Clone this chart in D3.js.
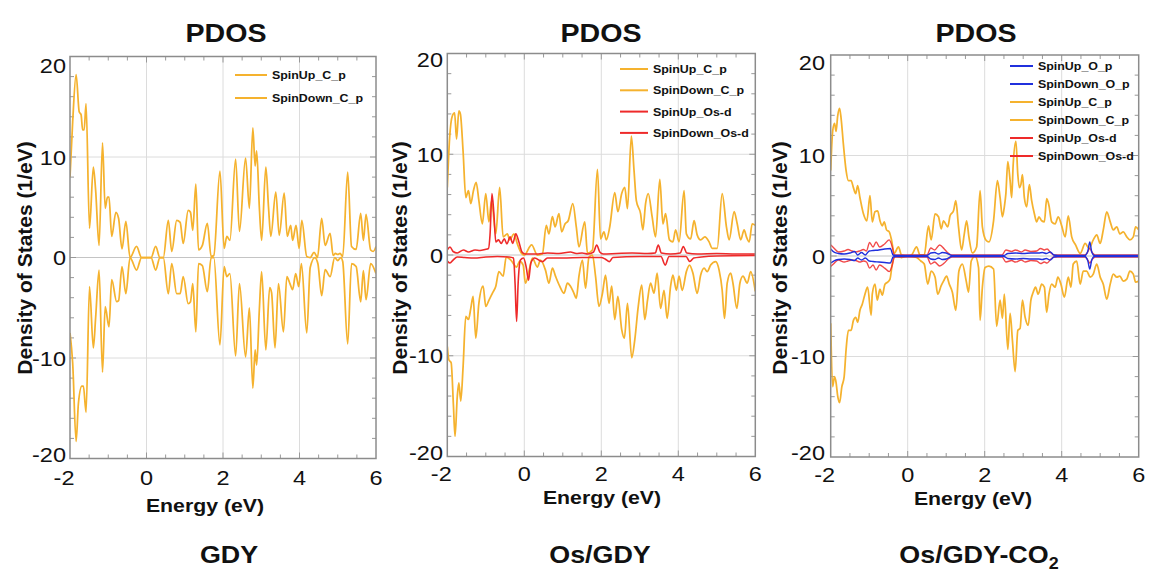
<!DOCTYPE html>
<html><head><meta charset="utf-8">
<script src="https://cdn.jsdelivr.net/npm/d3@7"></script>
<style>body{margin:0;background:#fff}svg{display:block;font-family:"Liberation Sans",Arial,sans-serif}</style>
</head><body><svg id="c" width="1153" height="572"></svg>
<script>
// ---------- tick labels ----------
const energyTicks = [-2, 0, 2, 4, 6];
const dosTicks = [-20, -10, 0, 10, 20];

// ---------- GDY ----------
const gdyUpC = [[-2.00,8.0],[-1.93,13.5],[-1.84,18.2],[-1.76,14.5],[-1.71,14.2],[-1.67,12.7],[-1.63,12.7],[-1.58,15.3],[-1.49,2.9],[-1.39,9.0],[-1.33,6.7],[-1.24,1.2],[-1.15,11.4],[-1.08,4.9],[-1.02,6.0],[-0.98,6.0],[-0.91,2.1],[-0.80,4.5],[-0.73,3.9],[-0.64,0.85],[-0.54,3.6],[-0.43,0.0],[-0.26,1.1],[-0.13,0.0],[0.00,0.0],[0.12,0.0],[0.24,1.1],[0.35,0.0],[0.44,0.0],[0.57,3.7],[0.66,0.6],[0.79,3.7],[0.88,3.5],[0.96,1.4],[1.09,4.7],[1.15,4.5],[1.21,2.7],[1.29,7.3],[1.36,0.75],[1.46,1.2],[1.59,3.4],[1.69,0.1],[1.76,0.2],[1.92,8.6],[2.03,0.9],[2.10,2.1],[2.18,1.7],[2.33,9.8],[2.43,2.6],[2.59,9.9],[2.69,4.9],[2.78,12.9],[2.84,9.1],[2.88,10.6],[2.95,5.0],[3.01,1.7],[3.12,9.0],[3.19,5.0],[3.25,2.1],[3.38,6.5],[3.47,2.2],[3.60,6.4],[3.68,2.1],[3.77,3.2],[3.82,1.7],[3.91,3.2],[3.99,0.9],[4.06,3.7],[4.19,0.1],[4.28,0.0],[4.38,0.5],[4.47,0.0],[4.58,3.9],[4.67,1.2],[4.80,2.4],[4.88,0.2],[4.94,0.4],[5.00,0.3],[5.06,0.4],[5.13,0.1],[5.26,8.5],[5.36,1.1],[5.48,0.8],[5.60,4.4],[5.67,1.7],[5.74,4.3],[5.86,0.75],[5.93,0.6],[6.00,1.1]];
const gdyDownC = [[-2.00,-7.5],[-1.93,-10.5],[-1.84,-18.3],[-1.78,-14.5],[-1.69,-12.8],[-1.65,-12.8],[-1.58,-15.4],[-1.49,-2.9],[-1.39,-9.0],[-1.33,-6.0],[-1.24,-1.25],[-1.15,-11.4],[-1.08,-4.9],[-0.98,-6.9],[-0.91,-2.2],[-0.78,-4.4],[-0.73,-4.3],[-0.64,-0.9],[-0.54,-3.6],[-0.43,0.0],[-0.26,-1.25],[-0.13,0.0],[0.00,0.0],[0.12,0.0],[0.24,-1.25],[0.35,0.0],[0.44,0.0],[0.57,-3.6],[0.66,-0.6],[0.79,-3.6],[0.88,-3.6],[0.96,-1.9],[1.09,-4.6],[1.15,-4.4],[1.21,-2.6],[1.29,-7.4],[1.36,-0.6],[1.46,-0.8],[1.59,-3.4],[1.69,0.0],[1.76,0.0],[1.92,-8.7],[2.03,-0.9],[2.10,-1.9],[2.18,-1.6],[2.33,-9.8],[2.43,-2.6],[2.59,-9.9],[2.69,-5.0],[2.78,-13.0],[2.84,-9.2],[2.88,-10.7],[2.95,-5.2],[3.01,-1.4],[3.12,-9.2],[3.22,-3.0],[3.27,-3.5],[3.36,-9.0],[3.45,-2.6],[3.58,-7.4],[3.67,-1.9],[3.75,-2.6],[3.82,-3.2],[3.90,-1.6],[3.98,-2.9],[4.05,-0.6],[4.19,-7.5],[4.28,-1.0],[4.40,0.0],[4.48,-0.6],[4.58,-3.8],[4.67,-1.2],[4.80,-1.9],[4.92,0.0],[5.00,-0.3],[5.08,0.0],[5.13,-0.4],[5.26,-8.6],[5.36,-0.6],[5.48,-0.9],[5.60,-4.4],[5.67,-1.3],[5.74,-4.2],[5.86,-0.6],[6.00,-1.6]];

// ---------- Os/GDY ----------
const osUpC = [[-2.00,6.7],[-1.94,11.6],[-1.87,13.8],[-1.81,14.1],[-1.76,11.5],[-1.70,14.3],[-1.66,14.0],[-1.59,10.3],[-1.52,5.7],[-1.45,6.4],[-1.39,5.1],[-1.32,6.4],[-1.25,7.2],[-1.18,5.4],[-1.09,3.1],[-1.00,6.1],[-0.92,3.3],[-0.85,5.4],[-0.74,2.1],[-0.64,6.7],[-0.55,1.8],[-0.44,2.1],[-0.38,1.5],[-0.27,2.1],[-0.18,1.1],[-0.07,0.16],[0.00,0.0],[0.19,1.0],[0.34,0.0],[0.47,0.1],[0.57,2.95],[0.64,2.1],[0.73,3.8],[0.80,2.8],[0.90,4.1],[0.97,2.3],[1.06,3.1],[1.14,3.4],[1.26,5.1],[1.35,2.8],[1.42,0.8],[1.57,3.3],[1.64,0.2],[1.77,0.5],[1.90,8.5],[1.98,1.6],[2.07,2.3],[2.13,1.5],[2.22,2.8],[2.35,6.2],[2.43,4.3],[2.53,6.1],[2.61,6.7],[2.68,4.6],[2.78,11.8],[2.85,8.4],[2.91,5.4],[3.02,4.1],[3.08,2.5],[3.15,5.1],[3.22,6.1],[3.32,3.8],[3.41,1.8],[3.52,7.5],[3.60,3.1],[3.67,4.1],[3.77,1.5],[3.86,1.3],[3.93,2.5],[4.02,1.3],[4.15,6.4],[4.21,2.1],[4.32,1.6],[4.41,3.4],[4.49,2.0],[4.58,1.5],[4.69,1.8],[4.80,1.3],[4.88,0.66],[5.01,0.66],[5.14,6.1],[5.25,2.8],[5.32,1.5],[5.45,4.3],[5.53,3.1],[5.62,1.5],[5.71,2.5],[5.77,1.8],[5.84,1.3],[5.92,3.1],[6.00,2.95]];
const osDownC = [[-2.00,-9.1],[-1.96,-10.4],[-1.90,-10.7],[-1.84,-15.0],[-1.80,-18.0],[-1.74,-14.0],[-1.70,-12.7],[-1.65,-14.5],[-1.59,-11.1],[-1.52,-6.1],[-1.45,-6.4],[-1.39,-5.3],[-1.33,-4.1],[-1.26,-8.25],[-1.18,-4.8],[-1.07,-3.1],[-1.00,-5.1],[-0.92,-4.5],[-0.83,-3.8],[-0.74,-3.1],[-0.66,-1.65],[-0.55,-2.1],[-0.47,-0.2],[-0.35,-0.5],[-0.20,-1.2],[-0.12,-0.6],[-0.03,-1.0],[0.03,-2.8],[0.14,-1.3],[0.21,-0.3],[0.34,-1.2],[0.42,-0.5],[0.55,-1.5],[0.64,-2.8],[0.73,-1.3],[0.81,-2.1],[0.92,-3.1],[1.03,-3.8],[1.12,-2.8],[1.20,-3.1],[1.29,-3.8],[1.35,-4.3],[1.42,-2.1],[1.51,-0.5],[1.59,-3.3],[1.68,-0.2],[1.77,0.0],[1.85,-2.1],[1.94,-5.1],[2.03,-3.8],[2.11,-2.0],[2.20,-4.8],[2.27,-3.1],[2.35,-6.4],[2.43,-4.1],[2.53,-7.4],[2.60,-8.25],[2.68,-4.8],[2.79,-10.2],[2.87,-8.4],[2.96,-5.1],[3.05,-3.0],[3.13,-6.4],[3.20,-4.5],[3.28,-2.8],[3.37,-3.8],[3.45,-1.8],[3.54,-5.3],[3.63,-3.5],[3.71,-6.3],[3.80,-3.1],[3.86,-2.0],[3.95,-3.5],[4.02,-2.1],[4.10,-3.5],[4.21,-1.65],[4.29,-1.0],[4.38,-1.8],[4.49,-3.8],[4.58,-2.0],[4.67,-1.3],[4.75,-1.65],[4.84,-1.0],[4.97,-0.66],[5.06,-1.5],[5.14,-3.5],[5.20,-6.3],[5.27,-2.8],[5.36,-1.8],[5.42,-2.8],[5.52,-5.3],[5.60,-2.8],[5.68,-2.1],[5.79,-2.8],[5.88,-1.65],[6.00,-3.6]];
const osUpD = [[-2.00,0.5],[-1.93,0.8],[-1.85,0.35],[-1.74,0.2],[-1.58,0.5],[-1.45,0.3],[-1.28,0.5],[-1.15,0.45],[-1.02,0.55],[-0.93,0.65],[-0.89,2.0],[-0.84,6.1],[-0.79,4.1],[-0.74,1.3],[-0.67,1.5],[-0.60,1.15],[-0.52,1.6],[-0.45,1.1],[-0.37,1.8],[-0.30,1.15],[-0.22,2.1],[-0.14,1.3],[-0.06,0.3],[0.02,0.1],[0.30,0.1],[0.60,0.2],[0.90,0.15],[1.20,0.3],[1.35,0.15],[1.50,0.2],[1.65,0.1],[1.80,0.3],[1.88,1.0],[1.96,0.3],[2.05,0.1],[2.40,0.15],[2.80,0.2],[3.20,0.15],[3.40,0.2],[3.48,1.0],[3.56,0.2],[3.80,0.1],[4.05,0.2],[4.13,0.85],[4.22,0.2],[4.50,0.1],[5.00,0.15],[5.50,0.1],[6.00,0.1]];
const osDownD = [[-2.00,-0.6],[-1.93,-0.8],[-1.85,-0.5],[-1.74,-0.2],[-1.55,-0.25],[-1.30,-0.3],[-1.00,-0.2],[-0.70,-0.15],[-0.40,-0.2],[-0.28,-0.3],[-0.24,-2.8],[-0.20,-6.6],[-0.16,-2.8],[-0.10,-0.5],[-0.02,-0.3],[0.05,-1.2],[0.11,-2.5],[0.17,-0.8],[0.27,-0.3],[0.47,-0.66],[0.60,-0.3],[1.00,-0.3],[1.50,-0.25],[2.00,-0.25],[2.10,-0.4],[2.21,-0.66],[2.30,-0.25],[3.00,-0.15],[3.55,-0.15],[3.66,-1.0],[3.76,-0.15],[4.20,-0.15],[4.30,-0.65],[4.40,-0.3],[4.60,-0.2],[5.00,-0.1],[6.00,-0.05]];

// ---------- Os/GDY-CO2 ----------
const coUpC = [[-2.00,8.5],[-1.95,12.4],[-1.90,13.2],[-1.86,12.4],[-1.82,13.9],[-1.77,14.7],[-1.73,13.7],[-1.67,11.1],[-1.60,8.5],[-1.54,7.5],[-1.47,7.5],[-1.41,6.8],[-1.35,6.2],[-1.30,7.0],[-1.24,5.8],[-1.15,4.2],[-1.06,3.5],[-0.98,6.0],[-0.92,3.4],[-0.85,4.4],[-0.78,4.5],[-0.72,3.5],[-0.66,3.0],[-0.61,3.4],[-0.55,2.6],[-0.48,2.4],[-0.42,1.6],[-0.35,0.26],[-0.24,0.9],[-0.16,0.1],[0.00,0.0],[0.10,0.1],[0.23,0.9],[0.32,0.1],[0.43,0.1],[0.54,3.0],[0.61,1.6],[0.71,4.2],[0.80,3.9],[0.87,2.7],[0.93,3.5],[1.04,2.9],[1.10,4.0],[1.19,4.5],[1.25,5.5],[1.32,2.9],[1.40,0.6],[1.47,2.2],[1.53,3.5],[1.59,1.9],[1.68,0.3],[1.79,0.9],[1.88,6.5],[1.94,2.9],[2.03,1.6],[2.11,1.4],[2.23,3.5],[2.33,7.5],[2.40,5.8],[2.46,3.9],[2.51,4.9],[2.55,6.2],[2.60,9.4],[2.66,7.5],[2.70,5.8],[2.74,9.1],[2.81,11.4],[2.86,8.1],[2.90,6.8],[2.94,7.1],[2.98,8.1],[3.03,5.8],[3.09,4.9],[3.16,7.1],[3.22,5.5],[3.29,4.2],[3.35,3.4],[3.41,3.9],[3.48,3.5],[3.55,3.4],[3.61,5.7],[3.67,5.0],[3.74,3.4],[3.83,3.2],[3.91,3.9],[4.00,3.0],[4.09,1.9],[4.17,4.0],[4.26,1.9],[4.36,1.1],[4.48,0.26],[4.61,1.25],[4.71,0.75],[4.82,1.6],[4.91,2.1],[5.00,1.25],[5.08,2.6],[5.17,4.4],[5.26,3.4],[5.34,2.6],[5.43,2.9],[5.51,2.2],[5.60,2.4],[5.69,1.9],[5.77,1.6],[5.86,1.9],[5.92,2.9],[6.00,2.6]];
const coDownC = [[-2.00,-6.7],[-1.95,-13.0],[-1.90,-12.0],[-1.86,-12.6],[-1.82,-13.9],[-1.77,-14.6],[-1.71,-13.0],[-1.65,-12.0],[-1.60,-9.3],[-1.54,-7.4],[-1.47,-7.4],[-1.41,-6.4],[-1.35,-6.1],[-1.30,-6.6],[-1.24,-5.4],[-1.18,-4.8],[-1.11,-3.8],[-1.04,-3.1],[-0.95,-5.9],[-0.92,-3.8],[-0.85,-2.8],[-0.79,-4.4],[-0.72,-3.3],[-0.66,-3.9],[-0.59,-2.8],[-0.52,-2.6],[-0.46,-2.3],[-0.40,-0.8],[-0.32,0.0],[-0.16,-0.15],[0.00,0.0],[0.23,-0.15],[0.34,-0.5],[0.43,-0.8],[0.52,-2.8],[0.61,-1.5],[0.71,-2.1],[0.78,-3.8],[0.87,-2.95],[0.93,-2.5],[1.01,-2.0],[1.08,-2.8],[1.16,-3.6],[1.25,-5.4],[1.33,-1.5],[1.42,-0.8],[1.52,-2.5],[1.58,-3.6],[1.65,-0.5],[1.75,0.0],[1.84,-1.15],[1.88,-6.4],[1.94,-3.1],[2.01,-1.15],[2.11,-1.0],[2.23,-1.3],[2.31,-7.0],[2.40,-4.4],[2.46,-6.2],[2.51,-3.8],[2.60,-9.3],[2.66,-5.7],[2.72,-8.4],[2.79,-11.5],[2.86,-7.4],[2.92,-7.2],[2.98,-4.4],[3.05,-6.1],[3.13,-6.9],[3.20,-4.4],[3.26,-3.6],[3.32,-3.1],[3.39,-3.8],[3.48,-2.8],[3.55,-3.1],[3.61,-5.6],[3.67,-3.8],[3.74,-2.8],[3.83,-3.1],[3.90,-2.1],[3.98,-2.8],[4.07,-4.1],[4.17,-2.1],[4.24,-3.1],[4.30,-0.8],[4.39,-0.5],[4.48,-2.8],[4.56,-1.5],[4.65,-1.5],[4.74,-2.1],[4.82,-1.8],[4.91,-0.8],[5.00,-2.1],[5.08,-2.8],[5.17,-4.3],[5.26,-2.8],[5.34,-1.8],[5.43,-2.1],[5.51,-2.0],[5.60,-2.5],[5.69,-2.3],[5.77,-1.5],[5.86,-1.8],[5.92,-2.6],[6.00,-2.5]];
const coUpO = [[-2.00,0.7],[-1.90,0.35],[-1.80,0.25],[-1.65,0.2],[-1.50,0.3],[-1.38,0.45],[-1.30,0.1],[-1.20,0.35],[-1.10,0.1],[-1.00,0.5],[-0.90,0.55],[-0.75,0.6],[-0.60,0.7],[-0.45,0.75],[-0.38,0.1],[-0.30,0.05],[0.50,0.05],[0.60,0.3],[0.70,0.35],[0.80,0.2],[0.90,0.35],[1.00,0.3],[1.15,0.05],[2.50,0.05],[2.60,0.25],[2.80,0.3],[3.00,0.25],[3.20,0.3],[3.40,0.3],[3.50,0.35],[3.60,0.25],[3.70,0.4],[3.80,0.1],[3.90,0.05],[4.60,0.05],[4.68,0.5],[4.73,1.4],[4.78,0.4],[4.85,0.05],[6.00,0.05]];
const coDownO = [[-2.00,-0.7],[-1.90,-0.45],[-1.80,-0.35],[-1.65,-0.3],[-1.50,-0.35],[-1.38,-0.45],[-1.30,-0.2],[-1.20,-0.4],[-1.10,-0.2],[-1.00,-0.5],[-0.90,-0.55],[-0.75,-0.6],[-0.60,-0.65],[-0.45,-0.7],[-0.38,-0.1],[-0.30,-0.05],[0.50,-0.05],[0.60,-0.3],[0.70,-0.35],[0.80,-0.2],[0.90,-0.35],[1.00,-0.3],[1.15,-0.05],[2.50,-0.05],[2.60,-0.25],[2.80,-0.3],[3.00,-0.25],[3.20,-0.3],[3.40,-0.3],[3.50,-0.35],[3.60,-0.25],[3.70,-0.4],[3.80,-0.1],[3.90,-0.05],[4.60,-0.05],[4.68,-0.5],[4.73,-1.3],[4.78,-0.4],[4.85,-0.05],[6.00,-0.05]];
const coUpD = [[-2.00,1.1],[-1.93,0.85],[-1.80,0.4],[-1.65,0.5],[-1.55,0.65],[-1.45,0.5],[-1.35,0.4],[-1.25,0.5],[-1.15,0.65],[-1.07,0.5],[-0.99,1.35],[-0.90,0.9],[-0.82,1.4],[-0.73,0.9],[-0.60,1.2],[-0.48,1.6],[-0.40,0.9],[-0.35,0.1],[0.50,0.1],[0.60,0.8],[0.70,0.6],[0.83,1.1],[0.95,0.7],[1.05,0.3],[1.15,0.1],[2.45,0.1],[2.55,0.6],[2.70,0.45],[2.80,0.6],[2.95,0.4],[3.05,0.6],[3.20,0.45],[3.35,0.5],[3.45,0.75],[3.55,0.6],[3.62,0.7],[3.72,0.3],[3.80,0.1],[4.60,0.1],[4.66,0.3],[4.73,0.75],[4.80,0.3],[4.87,0.1],[6.00,0.1]];
const coDownD = [[-2.00,-1.05],[-1.93,-0.8],[-1.80,-0.4],[-1.65,-0.6],[-1.55,-0.5],[-1.45,-0.4],[-1.35,-0.45],[-1.25,-0.6],[-1.15,-0.5],[-1.07,-0.6],[-0.99,-1.2],[-0.90,-0.9],[-0.82,-1.4],[-0.73,-0.9],[-0.60,-1.2],[-0.48,-1.55],[-0.40,-0.9],[-0.35,-0.1],[0.50,-0.1],[0.60,-0.8],[0.70,-0.6],[0.83,-1.0],[0.95,-0.7],[1.05,-0.3],[1.15,-0.1],[2.45,-0.1],[2.55,-0.6],[2.70,-0.45],[2.80,-0.6],[2.95,-0.4],[3.05,-0.6],[3.20,-0.45],[3.35,-0.5],[3.45,-0.75],[3.55,-0.6],[3.62,-0.7],[3.72,-0.3],[3.80,-0.1],[4.60,-0.1],[4.66,-0.3],[4.73,-0.7],[4.80,-0.3],[4.87,-0.1],[6.00,-0.1]];

// ---------- styles ----------
const ORANGE = "#f5b22e", RED = "#ee2a2a", BLUE = "#2030dd";
const svg = d3.select("#c");
svg.append("rect").attr("width",1153).attr("height",572).attr("fill","#fff");

const panels = [
  {x0:70,x1:376,y0:56.5,y1:458.5,titleX:226,bottom:"GDY",bottomX:229,ylabX:24,xlabX:205,xlabY:512,tickY:485,ytickX:66,topShift:9,
   legend:{x:235,y:75,dy:23,len:32},
   series:[{d:gdyUpC,c:ORANGE,l:"SpinUp_C_p"},{d:gdyDownC,c:ORANGE,l:"SpinDown_C_p"}], order:[0,1]},
  {x0:447.3,x1:755.3,y0:53.5,y1:456.5,titleX:601,bottom:"Os/GDY",bottomX:600,ylabX:399,xlabX:602,xlabY:504,tickY:481,ytickX:443,topShift:6,
   legend:{x:620,y:69,dy:21.3,len:28},
   series:[{d:osUpC,c:ORANGE,l:"SpinUp_C_p"},{d:osDownC,c:ORANGE,l:"SpinDown_C_p"},{d:osUpD,c:RED,l:"SpinUp_Os-d",w:1.6},{d:osDownD,c:RED,l:"SpinDown_Os-d",w:1.6}], order:[0,1,2,3]},
  {x0:830.7,x1:1138.7,y0:55,y1:457,titleX:976,bottom:"Os/GDY-CO",sub:"2",bottomX:979,ylabX:779,xlabX:973,xlabY:505,tickY:482,ytickX:825,topShift:7,
   legend:{x:1010,y:66,dy:18,len:23},
   series:[{d:coUpO,c:BLUE,l:"SpinUp_O_p",w:1.4},{d:coDownO,c:BLUE,l:"SpinDown_O_p",w:1.4},{d:coUpC,c:ORANGE,l:"SpinUp_C_p"},{d:coDownC,c:ORANGE,l:"SpinDown_C_p"},{d:coUpD,c:RED,l:"SpinUp_Os-d",w:1.4,o:0.85},{d:coDownD,c:RED,l:"SpinDown_Os-d",w:1.4,o:0.85}], order:[2,3,4,5,0,1]}
];

function stretchedText(g, x, y, txt, opts){
  const t = g.append("text")
    .attr("transform",`translate(${x},${y}) scale(${opts.sx||1},1)`)
    .attr("text-anchor",opts.anchor||"middle")
    .attr("font-size",opts.size).attr("font-weight",opts.weight||"normal")
    .attr("fill","#111").text(txt);
  return t;
}

panels.forEach(p=>{
  const x = d3.scaleLinear().domain([-2,6]).range([p.x0,p.x1]);
  const y = d3.scaleLinear().domain([-20,20]).range([p.y1,p.y0]);
  const g = svg.append("g");

  // grid
  g.selectAll(".gx").data(energyTicks.filter(v=>v>-2&&v<6)).join("line")
    .attr("x1",d=>x(d)).attr("x2",d=>x(d)).attr("y1",p.y0).attr("y2",p.y1)
    .attr("stroke","#dcdcdc").attr("stroke-width",1);
  g.selectAll(".gy").data(dosTicks.filter(v=>v>-20&&v<20)).join("line")
    .attr("y1",d=>y(d)).attr("y2",d=>y(d)).attr("x1",p.x0).attr("x2",p.x1)
    .attr("stroke",d=>d===0?"#c4c4c4":"#dcdcdc").attr("stroke-width",1);

  // minor ticks (inside, all sides)
  const xm = d3.range(-1.5,6,0.5), ym = d3.range(-18,20,2);
  xm.forEach(v=>{
    const len = Number.isInteger(v/2)?6:4;
    g.append("line").attr("x1",x(v)).attr("x2",x(v)).attr("y1",p.y1).attr("y2",p.y1-len).attr("stroke","#999");
    g.append("line").attr("x1",x(v)).attr("x2",x(v)).attr("y1",p.y0).attr("y2",p.y0+len).attr("stroke","#999");
  });
  ym.forEach(v=>{
    const len = v%10===0?6:4;
    g.append("line").attr("y1",y(v)).attr("y2",y(v)).attr("x1",p.x0).attr("x2",p.x0+len).attr("stroke","#999");
    g.append("line").attr("y1",y(v)).attr("y2",y(v)).attr("x1",p.x1).attr("x2",p.x1-len).attr("stroke","#999");
  });

  // curves
  const line = d3.line().x(d=>x(d[0])).y(d=>y(d[1])).curve(d3.curveMonotoneX);
  const clipId = "clip"+p.x0.toFixed(0);
  svg.append("clipPath").attr("id",clipId).append("rect")
    .attr("x",p.x0).attr("y",p.y0).attr("width",p.x1-p.x0).attr("height",p.y1-p.y0);
  const cg = g.append("g").attr("clip-path",`url(#${clipId})`);
  p.order.forEach(i=>{
    const s = p.series[i];
    cg.append("path").attr("d",line(s.d)).attr("fill","none")
      .attr("stroke",s.c).attr("stroke-width",s.w||1.75).attr("stroke-opacity",s.o||1)
      .attr("stroke-linejoin","round");
  });

  // frame
  g.append("rect").attr("x",p.x0).attr("y",p.y0).attr("width",p.x1-p.x0).attr("height",p.y1-p.y0)
    .attr("fill","none").attr("stroke","#8c8c8c").attr("stroke-width",1.5);

  // x tick labels
  energyTicks.forEach(v=>{
    stretchedText(g, x(v)+(v<0?-6:0), p.tickY, String(v), {size:21, sx:1.12});
  });
  // y tick labels
  dosTicks.forEach(v=>{
    stretchedText(g, p.ytickX, y(v)+7.5+(v===20?p.topShift:0)+(v===-20?-4.5:0), String(v), {size:21, sx:1.12, anchor:"end"});
  });

  // axis titles
  stretchedText(g, p.xlabX, p.xlabY, "Energy (eV)", {size:19, weight:"bold", sx:1.12});
  g.append("text").attr("transform",`translate(${p.ylabX},258) rotate(-90)`)
    .attr("text-anchor","middle").attr("dominant-baseline","central")
    .attr("font-size",21).attr("font-weight","bold").attr("fill","#111")
    .text("Density of States (1/eV)");

  // header & footer
  stretchedText(g, p.titleX, 42, "PDOS", {size:26, weight:"bold", sx:1.1});
  const bt = stretchedText(g, p.bottomX, 563, p.bottom, {size:24, weight:"bold", sx:1.12});
  if (p.sub) bt.append("tspan").attr("font-size",16).attr("dy",6).text(p.sub);

  // legend
  const L = p.legend;
  p.series.forEach((s,i)=>{
    const yy = L.y + i*L.dy;
    g.append("line").attr("x1",L.x).attr("x2",L.x+L.len).attr("y1",yy).attr("y2",yy)
      .attr("stroke",s.c).attr("stroke-width",2);
    stretchedText(g, L.x+L.len+5, yy+4, s.l, {size:11.5, weight:"bold", sx:1.08, anchor:"start"});
  });
});
</script></body></html>
